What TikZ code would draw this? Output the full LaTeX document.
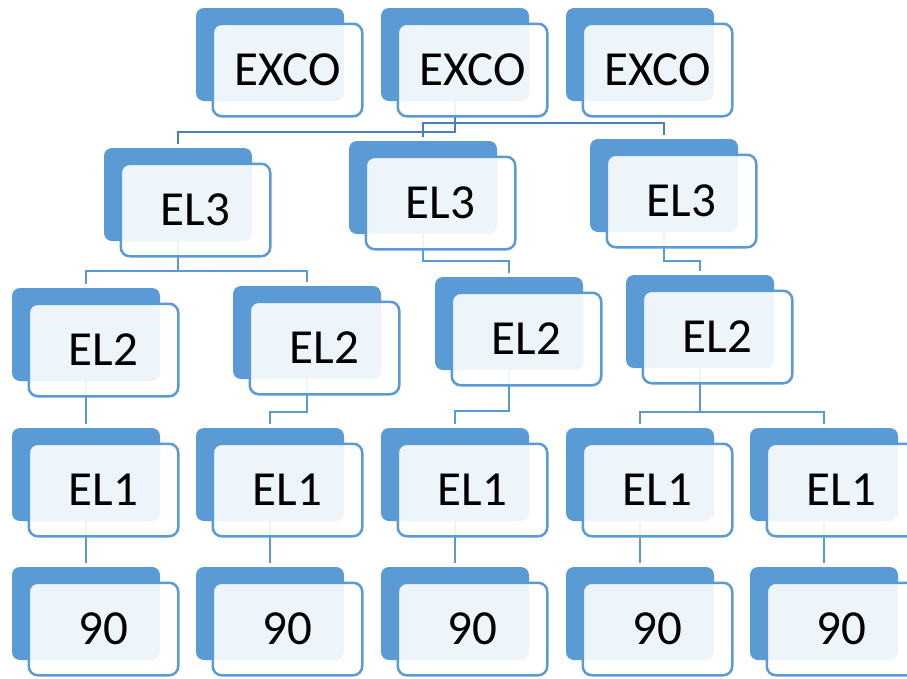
\documentclass[tikz,border=0pt]{standalone}
\usepackage{fontspec}
\setmainfont{Carlito}
\usetikzlibrary{calc}
\pgfdeclarelayer{bg}
\pgfsetlayers{bg,main}
\definecolor{sablue}{HTML}{5B9BD5}
\definecolor{condark}{HTML}{4A7EBB}
\tikzset{
  backbox/.style={rectangle, rounded corners=8pt, fill=sablue, draw=none,
    minimum width=148pt, minimum height=93pt, inner sep=0pt},
  frontbox/.style={rectangle, rounded corners=9pt, draw=sablue, line width=2.5pt,
    fill=white, fill opacity=0.9, text opacity=1, text=black,
    minimum width=149.5pt, minimum height=92.5pt, inner sep=0pt,
    font=\fontsize{49}{49}\selectfont},
  conn/.style={draw=sablue, line width=2.4pt, shorten >=4pt},
  conntop/.style={draw=condark, line width=2.4pt, shorten >=4pt},
}
\newcommand\orgbox[4]{%
  \node[backbox] (#1b) at ({#2+74},{#3+46.5}) {};
  \node[frontbox] (#1) at ({#2+91.5},{#3+62}) {#4};
}
\begin{document}
\begin{tikzpicture}[x=1pt,y=-1pt]
\useasboundingbox (0,0) rectangle (907,678);
% row EXCO
\orgbox{exa}{196}{8}{EXCO}
\orgbox{exb}{381}{8}{EXCO}
\orgbox{exc}{566}{8}{EXCO}
% row EL3
\orgbox{tha}{104}{148}{EL3}
\orgbox{thb}{349}{141}{EL3}
\orgbox{thc}{590}{139}{EL3}
% row EL2
\orgbox{twa}{12}{288}{EL2}
\orgbox{twb}{233}{286}{EL2}
\orgbox{twc}{435}{277}{EL2}
\orgbox{twd}{626}{275}{EL2}
% row EL1
\orgbox{ona}{12}{428}{EL1}
\orgbox{onb}{196}{428}{EL1}
\orgbox{onc}{381}{428}{EL1}
\orgbox{ond}{566}{428}{EL1}
\orgbox{one}{750}{428}{EL1}
% row 90
\orgbox{nia}{12}{567}{90}
\orgbox{nib}{196}{567}{90}
\orgbox{nic}{381}{567}{90}
\orgbox{nid}{566}{567}{90}
\orgbox{nie}{750}{567}{90}
\begin{pgfonlayer}{bg}
% EXCO -> EL3
\draw[conntop] (exbb.center) -- (exbb.center |- 0,132) -| (thab.north);
\draw[conntop] (exbb.center) -- (exbb.center |- 0,123) -| (thbb.north);
\draw[conntop] (exbb.center |- 0,123) -| (thcb.north);
% EL3 -> EL2
\draw[conn] (thab.center) -- (thab.center |- 0,271) -| (twab.north);
\draw[conn] (thab.center |- 0,271) -| (twbb.north);
\draw[conn] (thbb.center) -- (thbb.center |- 0,261) -| (twcb.north);
\draw[conn] (thcb.center) -- (thcb.center |- 0,261) -| (twdb.north);
% EL2 -> EL1
\draw[conn] (twab.center) -- (onab.north);
\draw[conn] (twbb.center) -- (twbb.center |- 0,412) -| (onbb.north);
\draw[conn] (twcb.center) -- (twcb.center |- 0,411) -| (oncb.north);
\draw[conn] (twdb.center) -- (twdb.center |- 0,412) -| (ondb.north);
\draw[conn] (twdb.center |- 0,412) -| (oneb.north);
% EL1 -> 90
\draw[conn] (onab.center) -- (niab.north);
\draw[conn] (onbb.center) -- (nibb.north);
\draw[conn] (oncb.center) -- (nicb.north);
\draw[conn] (ondb.center) -- (nidb.north);
\draw[conn] (oneb.center) -- (nieb.north);
\end{pgfonlayer}
\end{tikzpicture}
\end{document}
